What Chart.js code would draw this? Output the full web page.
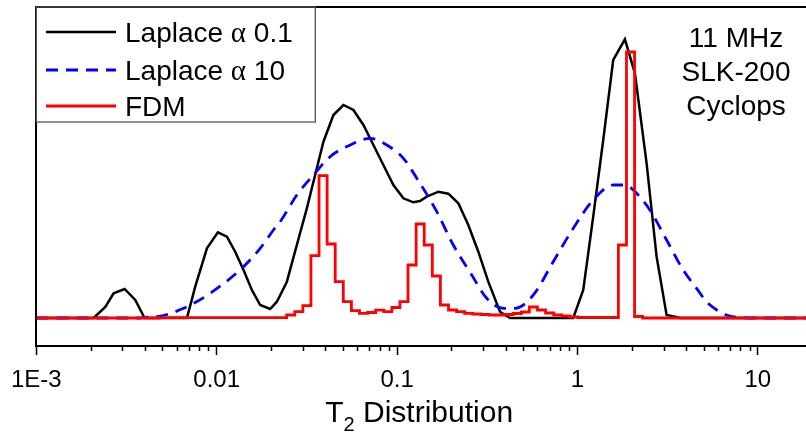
<!DOCTYPE html>
<html>
<head>
<meta charset="utf-8">
<script src="https://cdn.jsdelivr.net/npm/chart.js@4.4.1/dist/chart.umd.min.js"></script>
<style>
  html, body { margin: 0; padding: 0; background: #fff; }
  #wrap { width: 806px; height: 441px; }
</style>
</head>
<body>
<div id="wrap"><canvas id="t2Chart" width="806" height="441"></canvas></div>
<script>
// T2 (s) and amplitude (a.u.)
const laplace01T2 = [0.001, 0.002077, 0.002412, 0.002682, 0.003085, 0.003536, 0.003981, 0.006838, 0.007601, 0.008825,
  0.01015, 0.01139, 0.01266, 0.01408, 0.01567, 0.01742, 0.01979, 0.02156, 0.02449, 0.02781,
  0.0316, 0.03513, 0.03906, 0.04436, 0.05041, 0.05727, 0.06506, 0.0739, 0.08395, 0.09539,
  0.1084, 0.1231, 0.1341, 0.1461, 0.1694, 0.1924, 0.2186, 0.2483, 0.2821, 0.3204,
  0.3721, 0.4227, 0.9478, 1.077, 1.223, 1.39, 1.579, 1.833, 2.083, 2.418,
  2.747, 3.121, 3.469, 3.698, 18.5]
const laplace01Amp = [0, 0, 11, 24.7, 29, 18, 0, 0, 31.3, 69.7,
  85.7, 81.3, 66.3, 48, 28, 13, 9, 16.3, 36.3, 73,
  109.7, 143, 176.3, 203, 213, 208, 193, 173, 153, 133,
  119.7, 115.7, 117, 121.3, 126.3, 124.3, 114.7, 93, 66.3, 36.3,
  6.3, 0, 0, 28, 101.3, 178, 258, 278.7, 244.7, 154.7,
  61.3, 3, 1.3, 0, 0]

const laplace10T2 = [0.001, 0.00377, 0.004017, 0.004663, 0.006548, 0.009204, 0.01408, 0.01742, 0.02064, 0.02248,
  0.02781, 0.03438, 0.04254, 0.05492, 0.07086, 0.08768, 0.1084, 0.1286, 0.166, 0.205,
  0.2594, 0.3141, 0.3881, 0.4506, 0.569, 0.7342, 0.9478, 1.223, 1.579, 1.833,
  2.128, 2.521, 3.121, 3.857, 4.575, 5.198, 6.708, 7.948, 10.26, 18.5]
const laplace10Amp = [0, 0, 0.7, 1.3, 9.7, 24.7, 51.3, 69.7, 88, 96.3,
  123, 143, 161.3, 173, 179.7, 173, 159.7, 139.7, 106.3, 73,
  43, 19.7, 9.7, 9.7, 23, 56.3, 89.7, 118, 133, 133,
  124.7, 108, 78, 48, 29.7, 16.3, 3, 0.5, 0, 0]

const fdmT2 = [0.001, 0.0232, 0.02572, 0.02852, 0.03162, 0.03506, 0.03888, 0.04311, 0.0478, 0.053,
  0.05877, 0.06516, 0.07225, 0.08011, 0.08883, 0.0985, 0.1092, 0.1211, 0.1343, 0.1489,
  0.1651, 0.1831, 0.203, 0.2251, 0.2495, 0.2767, 0.3068, 0.3402, 0.3772, 0.4182,
  0.4637, 0.5142, 0.5701, 0.6321, 0.7009, 0.7772, 0.8617, 0.9555, 1.059, 1.175,
  1.303, 1.444, 1.601, 1.776, 1.969, 2.183, 2.42, 18.5]
const fdmAmp = [0, 0.3, 3, 6.3, 12.3, 62.3, 142.3, 74, 36.3, 16.3,
  7.3, 4.7, 5.5, 7.8, 6.3, 10.5, 16.3, 53, 94, 73,
  42, 13, 8, 6.3, 4.7, 4, 3.5, 3, 3, 3.5,
  4.5, 6, 11, 8, 5, 3, 2, 1, 0.5, 0.5,
  0.5, 0.5, 0.5, 73, 266, 1.5, 0, 0]

const xTickValues = [0.001, 0.01, 0.1, 1, 10]
const xTickLabels = ['1E-3', '0.01', '0.1', '1', '10']
const seriesNames = ['Laplace \u03b1 0.1', 'Laplace \u03b1 10', 'FDM']
const noteLines = ['11 MHz', 'SLK-200', 'Cyclops']

const SANS = '"Liberation Sans", Arial, sans-serif'
const SERIF = '"Liberation Serif", "Times New Roman", serif'

const toPoints = (xs, ys) => xs.map((x, i) => ({ x, y: ys[i] }))

// draws the frame top, minor ticks, boxed legend, note and axis title
const extras = {
  id: 'extras',
  afterDraw(chart) {
    const { ctx, chartArea } = chart
    const xs = chart.scales.x
    ctx.save()

    // top frame
    ctx.strokeStyle = '#000'
    ctx.lineWidth = 2
    ctx.beginPath()
    ctx.moveTo(chartArea.left - 1, chartArea.top)
    ctx.lineTo(chartArea.right, chartArea.top)
    ctx.stroke()

    // minor ticks
    ctx.lineWidth = 1.5
    ctx.beginPath()
    for (let d = 0.001; d < 20; d *= 10) {
      for (let m = 2; m <= 9; m++) {
        const v = d * m
        if (v > xs.max) break
        const px = Math.round(xs.getPixelForValue(v)) + 0.5
        ctx.moveTo(px, chartArea.bottom)
        ctx.lineTo(px, chartArea.bottom + 5)
      }
    }
    ctx.stroke()

    // legend box
    const bx = chartArea.left, by = chartArea.top
    ctx.fillStyle = '#fff'
    ctx.fillRect(bx + 1, by + 1, 278, 114)
    ctx.strokeStyle = '#555'
    ctx.lineWidth = 1.3
    ctx.strokeRect(bx, by, 279, 115)

    const rows = [32, 70, 106]
    chart.data.datasets.forEach((ds, i) => {
      const y = rows[i]
      ctx.strokeStyle = ds.borderColor
      ctx.lineWidth = ds.borderWidth
      ctx.setLineDash(ds.borderDash || [])
      ctx.beginPath()
      ctx.moveTo(46, y)
      ctx.lineTo(116, y)
      ctx.stroke()
      ctx.setLineDash([])

      // text, with the greek alpha in a serif face
      ctx.fillStyle = '#000'
      ctx.textBaseline = 'alphabetic'
      ctx.textAlign = 'left'
      let x = 125
      const base = y + 10
      seriesNames[i].split(/(\u03b1)/).forEach(part => {
        ctx.font = (part === '\u03b1' ? '29px ' + SERIF : '28px ' + SANS)
        ctx.fillText(part, x, base)
        x += ctx.measureText(part).width
      })
    })

    // instrument note
    ctx.font = '28px ' + SANS
    ctx.textAlign = 'center'
    ctx.fillStyle = '#000'
    const noteBase = [47, 81, 115]
    noteLines.forEach((t, i) => ctx.fillText(t, 736, noteBase[i]))

    // axis title T2 Distribution with subscript
    const big = '30px ' + SANS, small = '20px ' + SANS
    ctx.font = big
    const wT = ctx.measureText('T').width
    const wRest = ctx.measureText(' Distribution').width
    ctx.font = small
    const w2 = ctx.measureText('2').width
    let tx = (chartArea.left + 806) / 2 - (wT + w2 + wRest) / 2 - 2
    const ty = 422
    ctx.textAlign = 'left'
    ctx.font = big
    ctx.fillText('T', tx, ty)
    tx += wT
    ctx.font = small
    ctx.fillText('2', tx, ty + 9)
    tx += w2
    ctx.font = big
    ctx.fillText(' Distribution', tx, ty)

    ctx.restore()
  },
}

new Chart(document.getElementById('t2Chart'), {
  type: 'line',
  data: {
    datasets: [
      {
        label: seriesNames[0],
        data: toPoints(laplace01T2, laplace01Amp),
        borderColor: '#000000',
        borderWidth: 2.5,
        pointRadius: 0,
        tension: 0,
        order: 3,
      },
      {
        label: seriesNames[1],
        data: toPoints(laplace10T2, laplace10Amp),
        borderColor: '#0000ff',
        borderWidth: 2.8,
        borderDash: [12, 8],
        pointRadius: 0,
        cubicInterpolationMode: 'monotone',
        order: 2,
      },
      {
        label: seriesNames[2],
        data: toPoints(fdmT2, fdmAmp),
        borderColor: '#ff0000',
        borderWidth: 2.8,
        pointRadius: 0,
        stepped: 'middle',
        order: 1,
      },
    ],
  },
  options: {
    responsive: false,
    animation: false,
    devicePixelRatio: 1,
    layout: { padding: { top: 7, right: 0, bottom: 0, left: 0 } },
    plugins: { legend: { display: false }, tooltip: { enabled: false } },
    scales: {
      x: {
        type: 'logarithmic',
        min: 0.001,
        max: 18.5,
        border: { color: '#000', width: 2 },
        grid: { drawOnChartArea: false, drawTicks: true, tickLength: 9, tickWidth: 1.5, tickColor: '#000' },
        afterBuildTicks: (scale) => { scale.ticks = xTickValues.map(v => ({ value: v, major: true })) },
        afterFit: (scale) => { scale.height = 95 },
        ticks: {
          autoSkip: false,
          maxRotation: 0,
          padding: 11,
          color: '#000',
          font: { family: SANS, size: 24 },
          callback: (value, index) => xTickLabels[index],
        },
      },
      y: {
        min: -28,
        max: 311,
        border: { color: '#000', width: 2 },
        grid: { display: false },
        ticks: { display: false },
        afterFit: (scale) => { scale.width = 36 },
      },
    },
  },
  plugins: [extras],
})
</script>
</body>
</html>
